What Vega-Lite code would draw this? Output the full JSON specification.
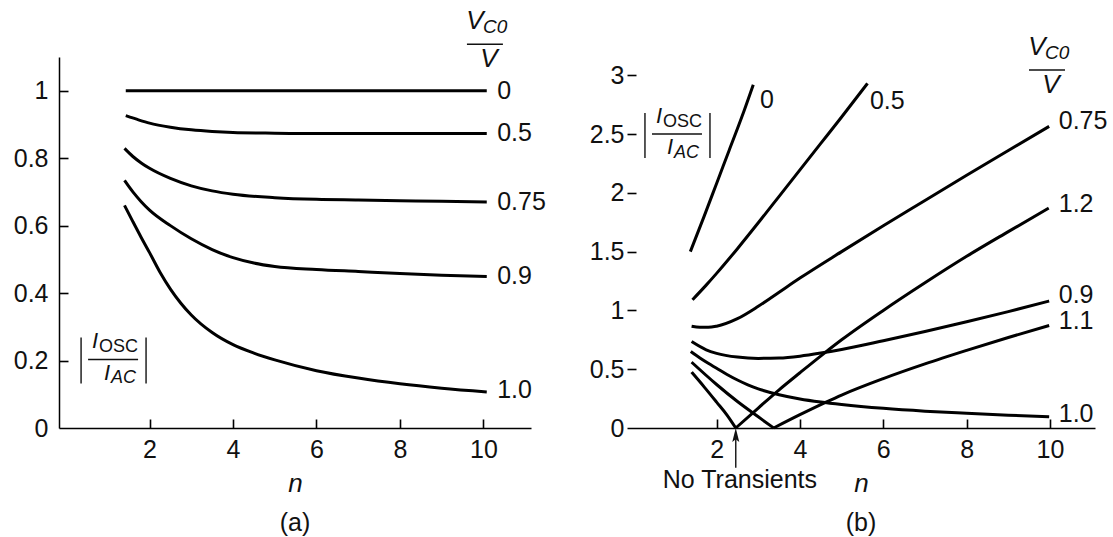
{
  "$schema": "https://vega.github.io/schema/vega-lite/v6.json",
  "padding": {"left": 13, "top": 8, "right": 5, "bottom": 5},
  "bounds": "flush",
  "spacing": 96,
  "config": {
    "view": {"stroke": null},
    "font": "Liberation Sans",
    "axis": {
      "grid": false,
      "domainColor": "black", "domainWidth": 1.5,
      "tickColor": "black", "tickWidth": 1.6, "tickSize": 9,
      "labelFont": "Liberation Sans", "labelFontSize": 25, "labelColor": "#111",
      "titleFont": "Liberation Sans", "titleFontSize": 26, "titleFontStyle": "italic",
      "titleFontWeight": "normal", "titleColor": "#111", "format": "~f"
    },
    "title": {"font": "Liberation Sans", "fontSize": 25, "fontWeight": "normal", "color": "#111"}
  },
  "datasets": {
    "curvesA": [
      {"k": "0", "n": 1.43, "v": 1.0}, {"k": "0", "n": 10.08, "v": 1.0},
      {"k": "0.5", "n": 1.43, "v": 0.926}, {"k": "0.5", "n": 1.75, "v": 0.913}, {"k": "0.5", "n": 2, "v": 0.904}, {"k": "0.5", "n": 2.5, "v": 0.892}, {"k": "0.5", "n": 3, "v": 0.884}, {"k": "0.5", "n": 3.5, "v": 0.879}, {"k": "0.5", "n": 4, "v": 0.876}, {"k": "0.5", "n": 5, "v": 0.874}, {"k": "0.5", "n": 6, "v": 0.873}, {"k": "0.5", "n": 8, "v": 0.873}, {"k": "0.5", "n": 10.08, "v": 0.873},
      {"k": "0.75", "n": 1.4, "v": 0.829}, {"k": "0.75", "n": 1.6, "v": 0.805}, {"k": "0.75", "n": 1.8, "v": 0.786}, {"k": "0.75", "n": 2, "v": 0.77}, {"k": "0.75", "n": 2.5, "v": 0.74}, {"k": "0.75", "n": 3, "v": 0.718}, {"k": "0.75", "n": 3.5, "v": 0.703}, {"k": "0.75", "n": 4, "v": 0.693}, {"k": "0.75", "n": 5, "v": 0.683}, {"k": "0.75", "n": 6, "v": 0.678}, {"k": "0.75", "n": 7, "v": 0.676}, {"k": "0.75", "n": 8, "v": 0.674}, {"k": "0.75", "n": 9, "v": 0.672}, {"k": "0.75", "n": 10.08, "v": 0.67},
      {"k": "0.9", "n": 1.4, "v": 0.734}, {"k": "0.9", "n": 1.6, "v": 0.7}, {"k": "0.9", "n": 1.8, "v": 0.671}, {"k": "0.9", "n": 2, "v": 0.646}, {"k": "0.9", "n": 2.5, "v": 0.6}, {"k": "0.9", "n": 3, "v": 0.561}, {"k": "0.9", "n": 3.5, "v": 0.529}, {"k": "0.9", "n": 4, "v": 0.505}, {"k": "0.9", "n": 4.5, "v": 0.489}, {"k": "0.9", "n": 5, "v": 0.479}, {"k": "0.9", "n": 6, "v": 0.47}, {"k": "0.9", "n": 7, "v": 0.464}, {"k": "0.9", "n": 8, "v": 0.458}, {"k": "0.9", "n": 9, "v": 0.453}, {"k": "0.9", "n": 10.08, "v": 0.449},
      {"k": "1.0", "n": 1.4, "v": 0.66}, {"k": "1.0", "n": 1.6, "v": 0.612}, {"k": "1.0", "n": 1.8, "v": 0.565}, {"k": "1.0", "n": 2, "v": 0.52}, {"k": "1.0", "n": 2.25, "v": 0.462}, {"k": "1.0", "n": 2.5, "v": 0.412}, {"k": "1.0", "n": 2.75, "v": 0.37}, {"k": "1.0", "n": 3, "v": 0.335}, {"k": "1.0", "n": 3.5, "v": 0.283}, {"k": "1.0", "n": 4, "v": 0.247}, {"k": "1.0", "n": 4.5, "v": 0.222}, {"k": "1.0", "n": 5, "v": 0.202}, {"k": "1.0", "n": 6, "v": 0.17}, {"k": "1.0", "n": 7, "v": 0.148}, {"k": "1.0", "n": 8, "v": 0.131}, {"k": "1.0", "n": 9, "v": 0.118}, {"k": "1.0", "n": 10.08, "v": 0.107}
    ],
    "curvesB": [
      {"k": "0", "n": 1.37, "v": 1.5}, {"k": "0", "n": 1.7, "v": 1.8}, {"k": "0", "n": 2.0, "v": 2.08}, {"k": "0", "n": 2.3, "v": 2.36}, {"k": "0", "n": 2.6, "v": 2.64}, {"k": "0", "n": 2.88, "v": 2.92},
      {"k": "0.5", "n": 1.42, "v": 1.09}, {"k": "0.5", "n": 1.75, "v": 1.215}, {"k": "0.5", "n": 2, "v": 1.315}, {"k": "0.5", "n": 2.5, "v": 1.525}, {"k": "0.5", "n": 3, "v": 1.745}, {"k": "0.5", "n": 3.5, "v": 1.97}, {"k": "0.5", "n": 4, "v": 2.195}, {"k": "0.5", "n": 4.5, "v": 2.42}, {"k": "0.5", "n": 5, "v": 2.645}, {"k": "0.5", "n": 5.62, "v": 2.93},
      {"k": "0.75", "n": 1.4, "v": 0.865}, {"k": "0.75", "n": 1.6, "v": 0.856}, {"k": "0.75", "n": 1.8, "v": 0.856}, {"k": "0.75", "n": 2, "v": 0.866}, {"k": "0.75", "n": 2.5, "v": 0.93}, {"k": "0.75", "n": 3, "v": 1.035}, {"k": "0.75", "n": 3.5, "v": 1.155}, {"k": "0.75", "n": 4, "v": 1.275}, {"k": "0.75", "n": 5, "v": 1.5}, {"k": "0.75", "n": 6, "v": 1.72}, {"k": "0.75", "n": 7, "v": 1.935}, {"k": "0.75", "n": 8, "v": 2.15}, {"k": "0.75", "n": 9, "v": 2.36}, {"k": "0.75", "n": 9.98, "v": 2.565},
      {"k": "0.9", "n": 1.4, "v": 0.735}, {"k": "0.9", "n": 1.75, "v": 0.665}, {"k": "0.9", "n": 2, "v": 0.635}, {"k": "0.9", "n": 2.5, "v": 0.603}, {"k": "0.9", "n": 3, "v": 0.592}, {"k": "0.9", "n": 3.5, "v": 0.595}, {"k": "0.9", "n": 4, "v": 0.611}, {"k": "0.9", "n": 4.5, "v": 0.637}, {"k": "0.9", "n": 5, "v": 0.668}, {"k": "0.9", "n": 6, "v": 0.742}, {"k": "0.9", "n": 7, "v": 0.82}, {"k": "0.9", "n": 8, "v": 0.903}, {"k": "0.9", "n": 9, "v": 0.99}, {"k": "0.9", "n": 9.98, "v": 1.08},
      {"k": "1.0", "n": 1.38, "v": 0.65}, {"k": "1.0", "n": 1.6, "v": 0.595}, {"k": "1.0", "n": 1.8, "v": 0.55}, {"k": "1.0", "n": 2, "v": 0.508}, {"k": "1.0", "n": 2.25, "v": 0.455}, {"k": "1.0", "n": 2.5, "v": 0.408}, {"k": "1.0", "n": 2.75, "v": 0.367}, {"k": "1.0", "n": 3, "v": 0.333}, {"k": "1.0", "n": 3.5, "v": 0.283}, {"k": "1.0", "n": 4, "v": 0.247}, {"k": "1.0", "n": 4.5, "v": 0.221}, {"k": "1.0", "n": 5, "v": 0.2}, {"k": "1.0", "n": 6, "v": 0.167}, {"k": "1.0", "n": 7, "v": 0.143}, {"k": "1.0", "n": 8, "v": 0.125}, {"k": "1.0", "n": 9, "v": 0.109}, {"k": "1.0", "n": 9.98, "v": 0.095},
      {"k": "1.1a", "n": 1.4, "v": 0.56}, {"k": "1.1a", "n": 2, "v": 0.37}, {"k": "1.1a", "n": 2.5, "v": 0.225}, {"k": "1.1a", "n": 3, "v": 0.095}, {"k": "1.1a", "n": 3.37, "v": 0},
      {"k": "1.1b", "n": 3.37, "v": 0}, {"k": "1.1b", "n": 4, "v": 0.113}, {"k": "1.1b", "n": 4.64, "v": 0.222}, {"k": "1.1b", "n": 5, "v": 0.28}, {"k": "1.1b", "n": 6, "v": 0.42}, {"k": "1.1b", "n": 7, "v": 0.545}, {"k": "1.1b", "n": 8, "v": 0.66}, {"k": "1.1b", "n": 9, "v": 0.77}, {"k": "1.1b", "n": 9.98, "v": 0.872},
      {"k": "1.2a", "n": 1.4, "v": 0.475}, {"k": "1.2a", "n": 1.7, "v": 0.35}, {"k": "1.2a", "n": 2, "v": 0.22}, {"k": "1.2a", "n": 2.25, "v": 0.11}, {"k": "1.2a", "n": 2.46, "v": 0},
      {"k": "1.2b", "n": 2.46, "v": 0}, {"k": "1.2b", "n": 3, "v": 0.17}, {"k": "1.2b", "n": 3.5, "v": 0.325}, {"k": "1.2b", "n": 4, "v": 0.47}, {"k": "1.2b", "n": 4.58, "v": 0.635}, {"k": "1.2b", "n": 5, "v": 0.75}, {"k": "1.2b", "n": 6, "v": 1.0}, {"k": "1.2b", "n": 7, "v": 1.235}, {"k": "1.2b", "n": 8, "v": 1.46}, {"k": "1.2b", "n": 9, "v": 1.67}, {"k": "1.2b", "n": 9.97, "v": 1.87}
    ],
    "annA": [
      {"role": "V", "n": 9.797, "v": 1.206, "t": "V"},
      {"role": "V", "n": 10.132, "v": 1.094, "t": "V"},
      {"role": "C0", "n": 9.988, "v": 1.189, "t": "C0"},
      {"role": "I", "n": 0.695, "v": 0.259, "t": "I"},
      {"role": "I", "n": 0.982, "v": 0.164, "t": "I"},
      {"role": "OSC", "n": 0.79, "v": 0.241, "t": "OSC"},
      {"role": "AC", "n": 1.078, "v": 0.147, "t": "AC"},
      {"role": "lab", "n": 10.33, "v": 1.0, "t": "0"},
      {"role": "lab", "n": 10.33, "v": 0.876, "t": "0.5"},
      {"role": "lab", "n": 10.33, "v": 0.67, "t": "0.75"},
      {"role": "lab", "n": 10.33, "v": 0.452, "t": "0.9"},
      {"role": "lab", "n": 10.33, "v": 0.112, "t": "1.0"}
    ],
    "rulesA": [
      {"n": 9.605, "n2": 10.467, "v": 1.138, "v2": 1.138},
      {"n": 0.527, "n2": 1.725, "v": 0.203, "v2": 0.203},
      {"n": 0.359, "n2": 0.359, "v": 0.132, "v2": 0.268},
      {"n": 1.916, "n2": 1.916, "v": 0.132, "v2": 0.268}
    ],
    "annB": [
      {"role": "V", "n": 9.688, "v": 3.24, "t": "V"},
      {"role": "V", "n": 10.024, "v": 2.917, "t": "V"},
      {"role": "C0", "n": 9.88, "v": 3.19, "t": "C0"},
      {"role": "I", "n": 0.617, "v": 2.653, "t": "I"},
      {"role": "I", "n": 0.881, "v": 2.389, "t": "I"},
      {"role": "OSC", "n": 0.713, "v": 2.602, "t": "OSC"},
      {"role": "AC", "n": 0.977, "v": 2.338, "t": "AC"},
      {"role": "lab", "n": 3.04, "v": 2.789, "t": "0"},
      {"role": "lab", "n": 5.68, "v": 2.78, "t": "0.5"},
      {"role": "lab", "n": 10.21, "v": 2.61, "t": "0.75"},
      {"role": "lab", "n": 10.21, "v": 1.905, "t": "1.2"},
      {"role": "lab", "n": 10.21, "v": 1.127, "t": "0.9"},
      {"role": "lab", "n": 10.21, "v": 0.91, "t": "1.1"},
      {"role": "lab", "n": 10.21, "v": 0.119, "t": "1.0"},
      {"role": "note", "n": 2.56, "v": -0.442, "t": "No Transients"}
    ],
    "rulesB": [
      {"n": 9.496, "n2": 10.36, "v": 3.044, "v2": 3.044},
      {"n": 0.449, "n2": 1.649, "v": 2.5, "v2": 2.5},
      {"n": 0.281, "n2": 0.281, "v": 2.296, "v2": 2.679},
      {"n": 1.841, "n2": 1.841, "v": 2.296, "v2": 2.679},
      {"n": 2.46, "n2": 2.46, "v": -0.337, "v2": -0.06}
    ],
    "arrowB": [{"n": 2.46, "v": 0}]
  },
  "hconcat": [
    {
      "width": 472,
      "height": 371,
      "title": {"text": "(a)", "orient": "bottom", "offset": 15},
      "resolve": {"axis": {"x": "independent", "y": "independent"}},
      "layer": [
        {
          "encoding": {
            "x": {"field": "n", "type": "quantitative",
                  "scale": {"domain": [-0.17, 11.14], "nice": false, "zero": false},
                  "axis": {"values": [2, 4, 6, 8, 10], "ticks": false, "labelPadding": 9, "title": "n", "titlePadding": 8}},
            "y": {"field": "v", "type": "quantitative",
                  "scale": {"domain": [0, 1.1], "nice": false, "zero": false},
                  "axis": {"values": [0, 0.2, 0.4, 0.6, 0.8, 1], "ticks": false, "labelPadding": 11, "title": null}}
          },
          "layer": [
            {"data": {"name": "rulesA"},
             "mark": {"type": "rule", "strokeWidth": 1.4, "color": "#111"},
             "encoding": {"x2": {"field": "n2"}, "y2": {"field": "v2"}}},
            {"data": {"name": "annA"}, "transform": [{"filter": "datum.role === 'lab'"}],
             "mark": {"type": "text", "align": "left", "baseline": "middle", "fontSize": 25, "color": "#111"},
             "encoding": {"text": {"field": "t"}}},
            {"data": {"name": "annA"}, "transform": [{"filter": "datum.role === 'V'"}],
             "mark": {"type": "text", "align": "center", "baseline": "middle", "fontSize": 26, "fontStyle": "italic", "color": "#111"},
             "encoding": {"text": {"field": "t"}}},
            {"data": {"name": "annA"}, "transform": [{"filter": "datum.role === 'C0'"}],
             "mark": {"type": "text", "align": "left", "baseline": "middle", "fontSize": 19, "fontStyle": "italic", "color": "#111"},
             "encoding": {"text": {"field": "t"}}},
            {"data": {"name": "annA"}, "transform": [{"filter": "datum.role === 'I'"}],
             "mark": {"type": "text", "align": "center", "baseline": "middle", "fontSize": 22, "fontStyle": "italic", "color": "#111"},
             "encoding": {"text": {"field": "t"}}},
            {"data": {"name": "annA"}, "transform": [{"filter": "datum.role === 'OSC'"}],
             "mark": {"type": "text", "align": "left", "baseline": "middle", "fontSize": 18, "color": "#111"},
             "encoding": {"text": {"field": "t"}}},
            {"data": {"name": "annA"}, "transform": [{"filter": "datum.role === 'AC'"}],
             "mark": {"type": "text", "align": "left", "baseline": "middle", "fontSize": 18, "fontStyle": "italic", "color": "#111"},
             "encoding": {"text": {"field": "t"}}}
          ]
        },
        {
          "data": {"name": "curvesA"},
          "mark": {"type": "line", "interpolate": "monotone", "strokeWidth": 3, "color": "black"},
          "encoding": {
            "x": {"field": "n", "type": "quantitative",
                  "scale": {"domain": [-0.17, 11.14], "nice": false, "zero": false},
                  "axis": {"orient": "top", "offset": -371, "values": [2, 4, 6, 8, 10], "labels": false, "domain": false, "title": null}},
            "y": {"field": "v", "type": "quantitative",
                  "scale": {"domain": [0, 1.1], "nice": false, "zero": false},
                  "axis": {"orient": "right", "offset": -472, "values": [0.2, 0.4, 0.6, 0.8, 1], "labels": false, "domain": false, "title": null}},
            "detail": {"field": "k"}
          }
        }
      ]
    },
    {
      "width": 468,
      "height": 371,
      "title": {"text": "(b)", "orient": "bottom", "offset": 15},
      "resolve": {"axis": {"x": "independent", "y": "independent"}},
      "layer": [
        {
          "encoding": {
            "x": {"field": "n", "type": "quantitative",
                  "scale": {"domain": [-0.15, 11.08], "nice": false, "zero": false},
                  "axis": {"values": [2, 4, 6, 8, 10], "ticks": false, "labelPadding": 9, "title": "n", "titlePadding": 8}},
            "y": {"field": "v", "type": "quantitative",
                  "scale": {"domain": [0, 3.155], "nice": false, "zero": false},
                  "axis": {"values": [0, 0.5, 1, 1.5, 2, 2.5, 3], "ticks": false, "labelPadding": 3, "domain": false, "title": null,
                           "labelExpr": "datum.value % 1 === 0 ? datum.label + '\u2002' : datum.label"}}
          },
          "layer": [
            {"mark": {"type": "rule", "strokeWidth": 1.5, "color": "black"},
             "encoding": {"x": {"datum": -0.15}, "y": {"datum": 0}, "y2": {"datum": 3}}},
            {"data": {"name": "rulesB"},
             "mark": {"type": "rule", "strokeWidth": 1.4, "color": "#111"},
             "encoding": {"x2": {"field": "n2"}, "y2": {"field": "v2"}}},
            {"data": {"name": "arrowB"},
             "mark": {"type": "point", "shape": "M0,0L0.5,2L0,1.6L-0.5,2Z", "size": 196, "filled": true, "color": "#111", "opacity": 1},
             "encoding": {}},
            {"data": {"name": "annB"}, "transform": [{"filter": "datum.role === 'lab'"}],
             "mark": {"type": "text", "align": "left", "baseline": "middle", "fontSize": 25, "color": "#111"},
             "encoding": {"text": {"field": "t"}}},
            {"data": {"name": "annB"}, "transform": [{"filter": "datum.role === 'note'"}],
             "mark": {"type": "text", "align": "center", "baseline": "middle", "fontSize": 25, "color": "#111"},
             "encoding": {"text": {"field": "t"}}},
            {"data": {"name": "annB"}, "transform": [{"filter": "datum.role === 'V'"}],
             "mark": {"type": "text", "align": "center", "baseline": "middle", "fontSize": 26, "fontStyle": "italic", "color": "#111"},
             "encoding": {"text": {"field": "t"}}},
            {"data": {"name": "annB"}, "transform": [{"filter": "datum.role === 'C0'"}],
             "mark": {"type": "text", "align": "left", "baseline": "middle", "fontSize": 19, "fontStyle": "italic", "color": "#111"},
             "encoding": {"text": {"field": "t"}}},
            {"data": {"name": "annB"}, "transform": [{"filter": "datum.role === 'I'"}],
             "mark": {"type": "text", "align": "center", "baseline": "middle", "fontSize": 22, "fontStyle": "italic", "color": "#111"},
             "encoding": {"text": {"field": "t"}}},
            {"data": {"name": "annB"}, "transform": [{"filter": "datum.role === 'OSC'"}],
             "mark": {"type": "text", "align": "left", "baseline": "middle", "fontSize": 18, "color": "#111"},
             "encoding": {"text": {"field": "t"}}},
            {"data": {"name": "annB"}, "transform": [{"filter": "datum.role === 'AC'"}],
             "mark": {"type": "text", "align": "left", "baseline": "middle", "fontSize": 18, "fontStyle": "italic", "color": "#111"},
             "encoding": {"text": {"field": "t"}}}
          ]
        },
        {
          "data": {"name": "curvesB"},
          "mark": {"type": "line", "interpolate": "monotone", "strokeWidth": 3, "color": "black"},
          "encoding": {
            "x": {"field": "n", "type": "quantitative",
                  "scale": {"domain": [-0.15, 11.08], "nice": false, "zero": false},
                  "axis": {"orient": "top", "offset": -371, "values": [2, 4, 6, 8, 10], "labels": false, "domain": false, "title": null}},
            "y": {"field": "v", "type": "quantitative",
                  "scale": {"domain": [0, 3.155], "nice": false, "zero": false},
                  "axis": {"orient": "right", "offset": -468, "values": [0.5, 1, 1.5, 2, 2.5, 3], "labels": false, "domain": false, "title": null}},
            "detail": {"field": "k"}
          }
        }
      ]
    }
  ]
}
